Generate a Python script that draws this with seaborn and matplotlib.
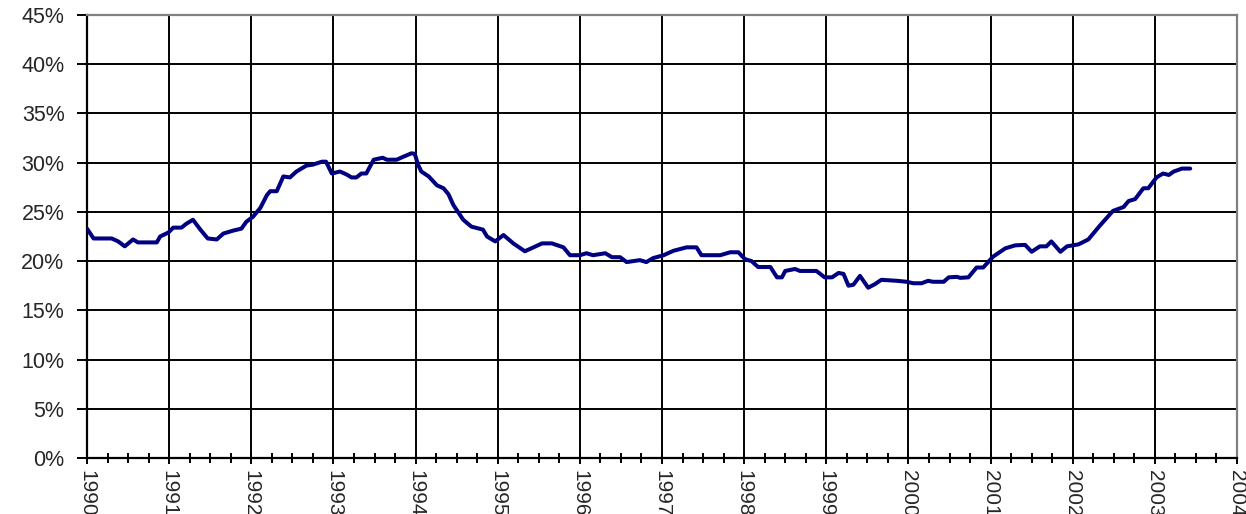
import numpy as np
import pandas as pd
import matplotlib
matplotlib.use("Agg")
import matplotlib.pyplot as plt
import seaborn as sns
from matplotlib.ticker import MultipleLocator

# Decimal years offset from 1990, and percentage values
year_offset = [0.00, 0.08, 0.30, 0.38, 0.46, 0.56, 0.62, 0.85, 0.89, 0.99,
               1.05, 1.15, 1.21, 1.29, 1.38, 1.47, 1.58, 1.66, 1.78, 1.88,
               1.94, 2.02, 2.11, 2.19, 2.23, 2.31, 2.39, 2.47, 2.55, 2.67,
               2.75, 2.86, 2.91, 2.98, 3.08, 3.16, 3.22, 3.28, 3.34, 3.40,
               3.49, 3.60, 3.65, 3.77, 3.85, 3.95, 3.99, 4.03, 4.07, 4.16,
               4.26, 4.34, 4.40, 4.46, 4.58, 4.68, 4.82, 4.87, 4.97, 5.07,
               5.19, 5.33, 5.41, 5.54, 5.66, 5.80, 5.88, 6.00, 6.08, 6.16,
               6.31, 6.39, 6.49, 6.57, 6.73, 6.81, 6.89, 7.02, 7.14, 7.30,
               7.42, 7.48, 7.71, 7.83, 7.93, 8.01, 8.09, 8.17, 8.32, 8.40,
               8.46, 8.50, 8.62, 8.68, 8.88, 8.98, 9.07, 9.15, 9.21, 9.27,
               9.33, 9.41, 9.51, 9.59, 9.67, 9.86, 9.98, 10.06, 10.16, 10.24,
               10.30, 10.43, 10.49, 10.59, 10.63, 10.73, 10.83, 10.91, 11.03, 11.18,
               11.30, 11.42, 11.50, 11.60, 11.68, 11.74, 11.85, 11.93, 12.07, 12.19,
               12.33, 12.49, 12.62, 12.68, 12.76, 12.86, 12.92, 13.02, 13.10, 13.17,
               13.23, 13.33, 13.43]
values = [23.3, 22.3, 22.3, 22.0, 21.5, 22.2, 21.9, 21.9, 22.5, 22.9,
          23.4, 23.4, 23.8, 24.2, 23.2, 22.3, 22.2, 22.8, 23.1, 23.3,
          24.0, 24.5, 25.4, 26.7, 27.1, 27.1, 28.6, 28.5, 29.1, 29.7,
          29.8, 30.1, 30.1, 28.9, 29.1, 28.8, 28.5, 28.5, 28.9, 28.9,
          30.3, 30.5, 30.3, 30.3, 30.6, 30.95, 30.9, 29.8, 29.1, 28.6,
          27.7, 27.4, 26.8, 25.7, 24.2, 23.5, 23.2, 22.5, 22.0, 22.65,
          21.8, 21.0, 21.3, 21.8, 21.8, 21.4, 20.6, 20.6, 20.8, 20.6,
          20.8, 20.4, 20.4, 19.9, 20.1, 19.9, 20.3, 20.6, 21.05, 21.4,
          21.4, 20.6, 20.6, 20.9, 20.9, 20.2, 20.0, 19.4, 19.4, 18.35,
          18.35, 19.0, 19.2, 19.0, 19.0, 18.35, 18.35, 18.8, 18.7, 17.5,
          17.6, 18.5, 17.3, 17.65, 18.1, 18.0, 17.9, 17.75, 17.75, 18.0,
          17.9, 17.9, 18.35, 18.4, 18.3, 18.35, 19.35, 19.35, 20.45, 21.3,
          21.6, 21.65, 20.95, 21.5, 21.5, 22.0, 20.95, 21.5, 21.7, 22.2,
          23.6, 25.1, 25.5, 26.1, 26.3, 27.4, 27.4, 28.5, 28.9, 28.75,
          29.1, 29.4, 29.4]
year_ticks = list(range(1990, 2005))
pct_ticks = list(range(0, 50, 5))

df = pd.DataFrame({"year": [1990 + o for o in year_offset], "value": values})

sns.set_style("white")
plt.rcParams["font.family"] = ["Liberation Sans", "DejaVu Sans"]

fig = plt.figure(figsize=(12.46, 5.14), dpi=100)
ax = fig.add_axes([87 / 1246, 1 - 458 / 514, (1237 - 87) / 1246, (458 - 15) / 514])

sns.lineplot(data=df, x="year", y="value", ax=ax, color="#000080",
             linewidth=2.9, zorder=3)

ax.set_xlim(1990, 2004)
ax.set_ylim(0, 45)
ax.set_xticks(year_ticks)
ax.set_xticklabels([str(y) for y in year_ticks], rotation=270, fontsize=15)
ax.xaxis.set_minor_locator(MultipleLocator(0.25))
ax.set_yticks(pct_ticks)
ax.set_yticklabels([f"{p}%" for p in pct_ticks], fontsize=15.5)
ax.set_xlabel("")
ax.set_ylabel("")

ax.grid(True, which="major", color="black", linewidth=1.4)
ax.tick_params(axis="x", which="major", direction="inout", length=9, width=1.4,
               color="black", pad=4, bottom=True)
ax.tick_params(axis="x", which="minor", direction="inout", length=7.5, width=1.4,
               color="black", bottom=True)
ax.tick_params(axis="y", which="major", direction="out", length=7.2, width=1.4,
               color="black", pad=9, left=True)

for side in ["left", "bottom"]:
    ax.spines[side].set_color("black")
    ax.spines[side].set_linewidth(1.6)
for side in ["top", "right"]:
    ax.spines[side].set_color("#808080")
    ax.spines[side].set_linewidth(1.6)
ax.set_axisbelow(True)

fig.savefig("out.png", dpi=100)
